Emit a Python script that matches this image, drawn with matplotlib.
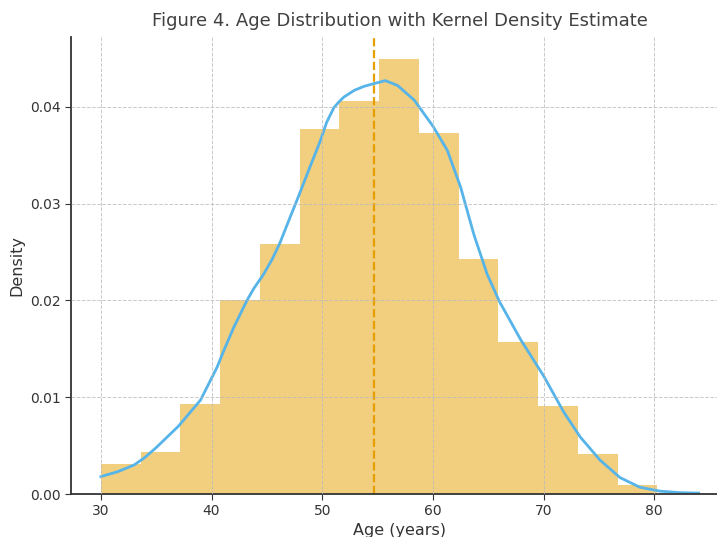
import numpy as np
import matplotlib
matplotlib.use("Agg")
from matplotlib import pyplot as plt

# histogram bins (age, years) and densities
bin_edges = [30.0, 33.59, 37.18, 40.77, 44.37, 47.96, 51.55, 55.14,
             58.73, 62.32, 65.91, 69.5, 73.1, 76.69, 80.28]
bin_density = [0.0031, 0.0043, 0.0093, 0.0200, 0.0258, 0.0377, 0.0406,
               0.0449, 0.0373, 0.0243, 0.0157, 0.0091, 0.0041, 0.0009]

# kde curve
kde_age = [30, 31.5, 33, 34, 35, 37, 39, 40.5, 41.1, 42, 42.6, 43.2, 43.8,
           44.7, 45.5, 46.2, 47.1, 47.7, 49, 49.8, 50.4, 51.05, 51.5, 51.95,
           52.9, 53.75, 54.7, 55.7, 56.8, 58.3, 60, 61.3, 62.5, 63.7,
           64.9, 66, 67.9, 70, 71.8, 73.3, 75.1, 76.9, 78.7, 80.5, 82.4, 84]
kde_density = [0.0018, 0.0023, 0.0030, 0.0038, 0.0048, 0.0070, 0.0097,
               0.0131, 0.0148, 0.0172, 0.0186, 0.0200, 0.0212, 0.0227,
               0.0243, 0.0260, 0.0286, 0.0303, 0.0341, 0.0364, 0.0384,
               0.0399, 0.0405, 0.0410, 0.0417, 0.0421, 0.0424, 0.0427,
               0.0422, 0.0407, 0.0380, 0.0355, 0.0317, 0.0268, 0.0227,
               0.0199, 0.0160, 0.0122, 0.0085, 0.0059, 0.0035, 0.0017,
               0.0007, 0.0003, 0.00014, 0.0001]

mean_age = 54.7

txt = "#333333"

fig = plt.figure(figsize=(7.17, 5.37), dpi=100)
ax = fig.add_axes([0.099, 0.080, 0.917, 0.851])

ax.stairs(bin_density, bin_edges, fill=True, color="#E69F00", alpha=0.5,
          linewidth=0)
ax.plot(kde_age, kde_density, color="#56B4E9", linewidth=2)
ax.axvline(mean_age, color="#E69F00", linestyle="--", linewidth=1.6)

ax.set_xlim(27.3, 86.7)
ax.set_ylim(0, 0.0472)
ax.set_xticks([30, 40, 50, 60, 70, 80])
ax.set_yticks([0.00, 0.01, 0.02, 0.03, 0.04])
ax.yaxis.set_major_formatter(matplotlib.ticker.FormatStrFormatter("%.2f"))

ax.grid(True, linestyle="--", linewidth=0.7, color="#bbbbbb", alpha=0.8)
ax.set_axisbelow(False)

for s in ["top", "right"]:
    ax.spines[s].set_visible(False)
for s in ["left", "bottom"]:
    ax.spines[s].set_color(txt)
    ax.spines[s].set_linewidth(1.3)
ax.tick_params(colors=txt, labelsize=10, length=4)

ax.set_xlabel("Age (years)", fontsize=11.5, color=txt, labelpad=3)
ax.set_ylabel("Density", fontsize=11.5, color=txt)
ax.set_title("Figure 4. Age Distribution with Kernel Density Estimate",
             fontsize=13, color="#404040", pad=8)

fig.savefig("out.png", dpi=100)
